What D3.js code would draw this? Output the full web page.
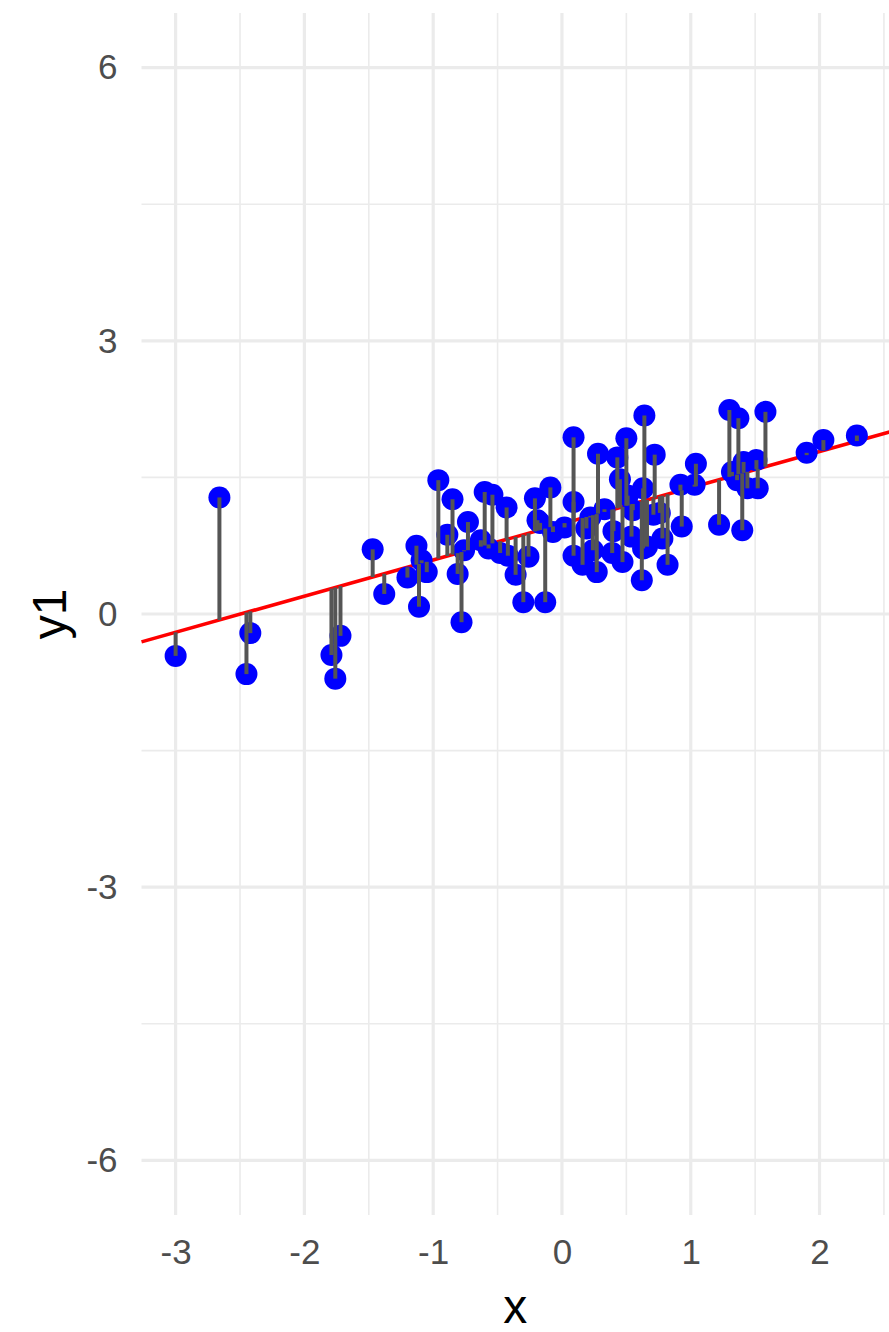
<!DOCTYPE html>
<html>
<head>
<meta charset="utf-8">
<script src="https://cdn.jsdelivr.net/npm/d3@7"></script>
<style>
  body { margin: 0; background: #fff; }
  svg { display: block; font-family: "Liberation Sans", Arial, sans-serif; }
</style>
</head>
<body>
<div id="chart"></div>
<script>
const xValues = [
  -3.00, -2.66, -2.42, -2.45, -1.79, -1.76, -1.72, -1.47, -1.38, -1.20,
  -1.13, -1.11, -1.05, -1.09, -0.96, -0.85, -0.89, -0.81, -0.78, -0.73,
  -0.76, -0.60, -0.54, -0.63, -0.43, -0.48, -0.42, -0.36, -0.30, -0.26,
  -0.21, -0.09, -0.13, -0.07, -0.19, 0.09, 0.09, 0.09, 0.16, 0.27,
  0.22, 0.33, 0.28, 0.47, 0.50, 0.45, 0.43, 0.64, 0.72, 0.63,
  0.71, 0.63, 0.62, 0.82, 0.93, 0.92, 1.04, 1.03, 1.30, 1.37,
  1.58, 1.32, 1.41, 1.51, 1.44, 1.52, 1.36, 1.22, 1.40, 1.90,
  2.03, 2.29, 0.24, 0.39, -0.17, 0.55, 0.66, 0.76, 0.19, 0.40,
  0.54, 0.78, 0.02, 0.51, -0.57
];
const yValues = [
  -0.46, 1.28, -0.21, -0.66, -0.45, -0.71, -0.24, 0.71, 0.22, 0.40,
  0.75, 0.08, 0.46, 0.59, 1.47, 1.26, 0.87, 0.44, -0.09, 1.01,
  0.70, 1.34, 1.31, 0.81, 1.17, 0.67, 0.64, 0.43, 0.13, 0.63,
  1.27, 1.39, 0.13, 0.90, 1.03, 1.94, 1.23, 0.64, 0.54, 0.46,
  1.06, 1.15, 1.76, 0.57, 1.93, 1.48, 1.72, 2.18, 1.75, 1.38,
  1.09, 0.72, 0.37, 0.54, 0.96, 1.42, 1.65, 1.42, 2.24, 2.15,
  2.22, 1.56, 1.67, 1.69, 1.38, 1.38, 1.47, 0.98, 0.92, 1.77,
  1.91, 1.96, 0.70, 0.67, 1.00, 1.14, 0.74, 1.11, 0.94, 0.91,
  0.85, 0.83, 0.95, 1.30, 0.72
];

// fitted line y1 = intercept + slope * x
const intercept = 0.99;
const slope = 0.397;

const xTicks = [-3, -2, -1, 0, 1, 2];
const xMinor = [-2.5, -1.5, -0.5, 0.5, 1.5, 2.5];
const yTicks = [-6, -3, 0, 3, 6];
const yMinor = [-4.5, -1.5, 1.5, 4.5];

const width = 889;
const height = 1332;
const margin = {top: 13, right: -2, bottom: 117, left: 141.5};

const data = xValues.map((x, i) => ({x: x, y: yValues[i], fit: intercept + slope * x}));

const svg = d3.select('#chart')
  .append('svg')
  .attr('width', width)
  .attr('height', height);

const xScale = d3.scaleLinear()
  .domain([-3.265, 2.555])
  .range([margin.left, width - margin.right]);

const yScale = d3.scaleLinear()
  .domain([-6.6, 6.6])
  .range([height - margin.bottom, margin.top]);

const grid = svg.append('g').attr('stroke', '#ebebeb');

grid.selectAll('.xminor')
  .data(xMinor).enter()
  .append('line')
  .attr('x1', d => xScale(d)).attr('x2', d => xScale(d))
  .attr('y1', yScale.range()[0]).attr('y2', yScale.range()[1])
  .attr('stroke-width', 1.6);

grid.selectAll('.yminor')
  .data(yMinor).enter()
  .append('line')
  .attr('x1', xScale.range()[0]).attr('x2', xScale.range()[1])
  .attr('y1', d => yScale(d)).attr('y2', d => yScale(d))
  .attr('stroke-width', 1.6);

grid.selectAll('.xmajor')
  .data(xTicks).enter()
  .append('line')
  .attr('x1', d => xScale(d)).attr('x2', d => xScale(d))
  .attr('y1', yScale.range()[0]).attr('y2', yScale.range()[1])
  .attr('stroke-width', 3.2);

grid.selectAll('.ymajor')
  .data(yTicks).enter()
  .append('line')
  .attr('x1', xScale.range()[0]).attr('x2', xScale.range()[1])
  .attr('y1', d => yScale(d)).attr('y2', d => yScale(d))
  .attr('stroke-width', 3.2);

// regression line
const xd = xScale.domain();
svg.append('line')
  .attr('x1', xScale(xd[0])).attr('y1', yScale(intercept + slope * xd[0]))
  .attr('x2', xScale(xd[1])).attr('y2', yScale(intercept + slope * xd[1]))
  .attr('stroke', '#ff0000')
  .attr('stroke-width', 3.6);

svg.append('g').selectAll('circle')
  .data(data).enter()
  .append('circle')
  .attr('cx', d => xScale(d.x))
  .attr('cy', d => yScale(d.y))
  .attr('r', 11)
  .attr('fill', '#0000ff');

// residuals
svg.append('g').selectAll('line')
  .data(data).enter()
  .append('line')
  .attr('x1', d => xScale(d.x)).attr('x2', d => xScale(d.x))
  .attr('y1', d => yScale(d.y)).attr('y2', d => yScale(d.fit))
  .attr('stroke', '#555555')
  .attr('stroke-width', 4);

// axes (text only, theme_minimal style)
const xAxis = svg.append('g')
  .attr('transform', `translate(0,${yScale.range()[0]})`)
  .call(d3.axisBottom(xScale).tickValues(xTicks).tickSize(0).tickPadding(24).tickFormat(d => String(d)));
xAxis.select('.domain').remove();
xAxis.selectAll('text')
  .attr('fill', '#4d4d4d')
  .style('font-size', '35px');

const yAxis = svg.append('g')
  .attr('transform', `translate(${margin.left},0)`)
  .call(d3.axisLeft(yScale).tickValues(yTicks).tickSize(0).tickPadding(24).tickFormat(d => String(d)));
yAxis.select('.domain').remove();
yAxis.selectAll('text')
  .attr('fill', '#4d4d4d')
  .style('font-size', '35px');

svg.append('text')
  .attr('x', (xScale.range()[0] + 889) / 2)
  .attr('y', 1323)
  .attr('text-anchor', 'middle')
  .style('font-size', '48px')
  .text('x');

svg.append('text')
  .attr('transform', `translate(66,${yScale(0)}) rotate(-90)`)
  .attr('text-anchor', 'middle')
  .style('font-size', '48px')
  .text('y1');
</script>
</body>
</html>
